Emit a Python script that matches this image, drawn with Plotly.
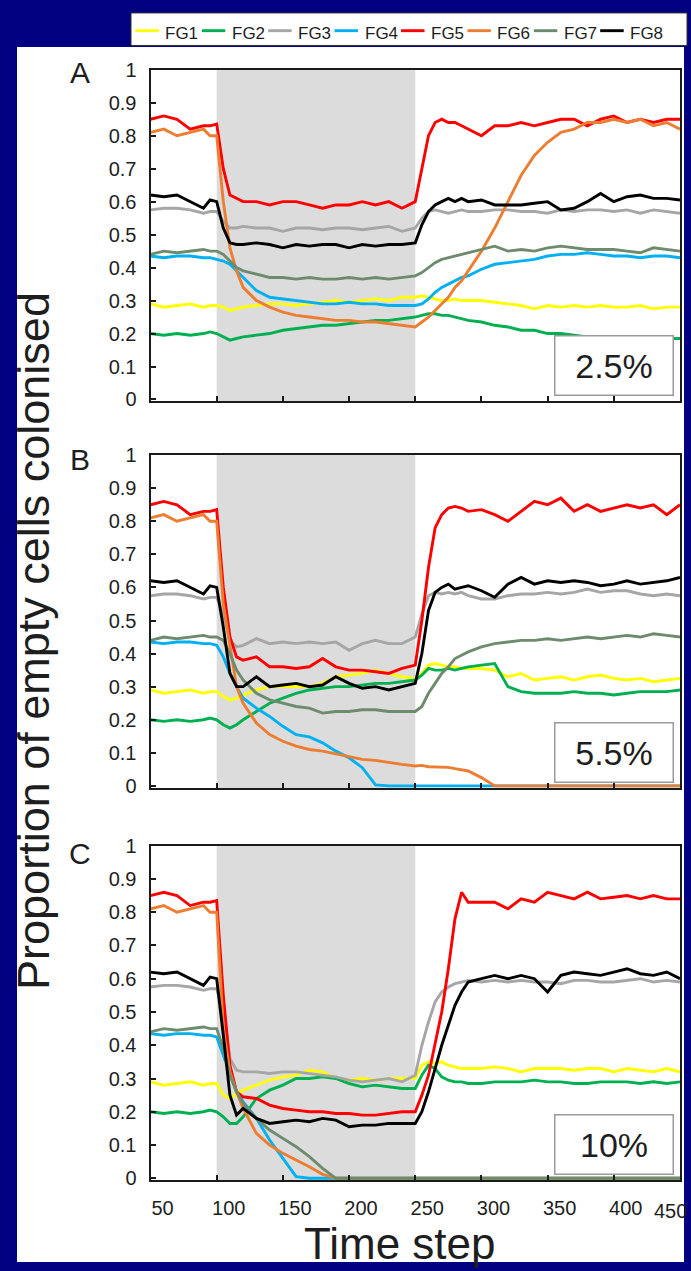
import plotly.graph_objects as go

# ---------------- data ----------------
time_steps = [50, 60, 70, 80, 90, 95, 100, 105, 110, 115,
              120, 130, 140, 150, 160, 170, 180, 190, 200, 210, 220, 230, 240,
              250, 255, 260, 265, 270, 275, 280, 285, 290,
              300, 310, 320, 330, 340, 350, 360, 370, 380, 390, 400, 410, 420, 430, 440, 450]

groups = ["FG1", "FG2", "FG3", "FG4", "FG5", "FG6", "FG7", "FG8"]
colors = ["#ffff00", "#00b050", "#a6a6a6", "#00b0f0", "#ff0000", "#ed7d31", "#6e8b6e", "#000000"]

# Panel A (2.5%)
fg1_a = [0.29,0.28,0.285,0.29,0.28,0.285,0.285, 0.28,0.27,0.275,
         0.28,0.285,0.29,0.29,0.285,0.29,0.295,0.30,0.295,0.30,0.305,0.30,0.31,
         0.31,0.315,0.31,0.305,0.30,0.30,0.305,0.30,0.30,
         0.30,0.295,0.29,0.285,0.275,0.285,0.28,0.285,0.28,0.285,0.28,0.28,0.285,0.275,0.28,0.28]
fg2_a = [0.20,0.195,0.20,0.195,0.20,0.205,0.20, 0.19,0.18,0.185,
         0.19,0.195,0.20,0.21,0.215,0.22,0.225,0.225,0.23,0.235,0.24,0.24,0.245,
         0.25,0.255,0.26,0.26,0.255,0.255,0.25,0.245,0.24,
         0.235,0.225,0.22,0.21,0.21,0.20,0.20,0.195,0.19,0.19,0.19,0.185,0.19,0.19,0.185,0.185]
fg3_a = [0.575,0.58,0.58,0.575,0.565,0.57,0.57, 0.54,0.52,0.52,
         0.525,0.52,0.52,0.51,0.52,0.52,0.515,0.52,0.52,0.515,0.52,0.525,0.51,
         0.52,0.55,0.57,0.575,0.57,0.565,0.57,0.575,0.57,
         0.57,0.575,0.575,0.57,0.57,0.565,0.575,0.57,0.575,0.575,0.57,0.575,0.565,0.575,0.57,0.565]
fg4_a = [0.435,0.43,0.435,0.435,0.43,0.43,0.425, 0.42,0.41,0.39,
         0.37,0.33,0.31,0.305,0.30,0.295,0.29,0.29,0.295,0.29,0.29,0.285,0.285,
         0.285,0.29,0.305,0.325,0.34,0.35,0.36,0.37,0.375,
         0.395,0.41,0.415,0.42,0.425,0.435,0.44,0.44,0.445,0.44,0.435,0.435,0.43,0.435,0.435,0.43]
fg5_a = [0.85,0.86,0.85,0.82,0.83,0.83,0.835, 0.70,0.62,0.61,
         0.60,0.60,0.59,0.60,0.60,0.59,0.58,0.59,0.59,0.60,0.59,0.60,0.58,
         0.60,0.70,0.80,0.84,0.85,0.84,0.84,0.83,0.82,
         0.80,0.83,0.83,0.84,0.83,0.84,0.85,0.85,0.83,0.85,0.86,0.84,0.85,0.84,0.85,0.85]
fg6_a = [0.81,0.82,0.80,0.81,0.82,0.80,0.80, 0.60,0.46,0.39,
         0.34,0.30,0.28,0.265,0.255,0.25,0.245,0.24,0.24,0.235,0.235,0.23,0.225,
         0.22,0.235,0.25,0.27,0.29,0.31,0.34,0.36,0.39,
         0.45,0.52,0.60,0.68,0.74,0.78,0.81,0.82,0.84,0.84,0.85,0.84,0.85,0.83,0.84,0.82]
fg7_a = [0.44,0.45,0.445,0.45,0.455,0.45,0.45, 0.44,0.42,0.40,
         0.39,0.38,0.37,0.37,0.365,0.37,0.365,0.365,0.37,0.365,0.37,0.365,0.37,
         0.375,0.385,0.40,0.415,0.425,0.43,0.435,0.44,0.445,
         0.455,0.465,0.45,0.455,0.45,0.46,0.465,0.46,0.455,0.455,0.455,0.45,0.445,0.46,0.455,0.45]
fg8_a = [0.62,0.615,0.62,0.60,0.58,0.605,0.60, 0.52,0.475,0.47,
         0.47,0.475,0.47,0.46,0.47,0.465,0.47,0.47,0.46,0.47,0.465,0.47,0.47,
         0.475,0.53,0.57,0.59,0.60,0.61,0.60,0.61,0.60,
         0.605,0.59,0.59,0.59,0.595,0.60,0.575,0.58,0.60,0.625,0.60,0.615,0.62,0.61,0.61,0.605]

# Panel B (5.5%)
fg1_b = [0.29,0.28,0.285,0.29,0.28,0.285,0.285, 0.27,0.26,0.265,
         0.275,0.29,0.30,0.30,0.30,0.30,0.31,0.33,0.335,0.34,0.35,0.34,0.33,
         0.325,0.34,0.365,0.37,0.365,0.36,0.36,0.355,0.355,
         0.355,0.35,0.33,0.34,0.32,0.325,0.33,0.32,0.33,0.335,0.325,0.32,0.325,0.315,0.32,0.325]
fg2_b = [0.20,0.195,0.20,0.195,0.20,0.205,0.20, 0.185,0.175,0.185,
         0.20,0.225,0.25,0.265,0.28,0.29,0.295,0.30,0.30,0.305,0.31,0.31,0.315,
         0.32,0.335,0.355,0.35,0.35,0.355,0.35,0.355,0.36,
         0.365,0.37,0.30,0.285,0.28,0.28,0.28,0.285,0.28,0.28,0.275,0.28,0.285,0.285,0.285,0.29]
fg3_b = [0.575,0.58,0.58,0.575,0.565,0.57,0.57, 0.52,0.44,0.42,
         0.425,0.445,0.43,0.435,0.43,0.435,0.43,0.435,0.41,0.43,0.44,0.43,0.43,
         0.45,0.52,0.575,0.585,0.58,0.585,0.58,0.585,0.575,
         0.565,0.565,0.575,0.58,0.58,0.585,0.58,0.585,0.595,0.585,0.59,0.59,0.58,0.575,0.58,0.575]
fg4_b = [0.435,0.43,0.435,0.435,0.43,0.43,0.425, 0.39,0.34,0.30,
         0.265,0.235,0.21,0.18,0.155,0.148,0.13,0.105,0.085,0.055,0.003,0.0,0.0,
         0.0,0.0,0.0,0.0,0.0,0.0,0.0,0.0,0.0,
         0.0,0.0,0.0,0.0,0.0,0.0,0.0,0.0,0.0,0.0,0.0,0.0,0.0,0.0,0.0,0.0]
fg5_b = [0.85,0.86,0.85,0.82,0.83,0.83,0.835, 0.60,0.45,0.39,
         0.38,0.39,0.36,0.36,0.355,0.36,0.385,0.36,0.35,0.35,0.345,0.34,0.355,
         0.365,0.50,0.66,0.78,0.82,0.84,0.845,0.84,0.83,
         0.835,0.82,0.80,0.83,0.86,0.85,0.87,0.83,0.85,0.83,0.84,0.85,0.84,0.85,0.82,0.85]
fg6_b = [0.81,0.82,0.80,0.81,0.82,0.80,0.80, 0.55,0.42,0.30,
         0.25,0.19,0.155,0.135,0.12,0.11,0.105,0.097,0.09,0.08,0.077,0.07,0.065,
         0.06,0.062,0.058,0.057,0.057,0.056,0.052,0.048,0.045,
         0.025,0.0,0.0,0.0,0.0,0.0,0.0,0.0,0.0,0.0,0.0,0.0,0.0,0.0,0.0,0.0]
fg7_b = [0.44,0.45,0.445,0.45,0.455,0.45,0.45, 0.44,0.40,0.35,
         0.32,0.28,0.26,0.25,0.24,0.235,0.22,0.225,0.225,0.23,0.23,0.225,0.225,
         0.225,0.24,0.28,0.31,0.34,0.36,0.385,0.395,0.405,
         0.42,0.43,0.435,0.44,0.44,0.445,0.44,0.445,0.45,0.445,0.45,0.455,0.45,0.46,0.455,0.45]
fg8_b = [0.62,0.615,0.62,0.60,0.58,0.605,0.60, 0.48,0.34,0.30,
         0.30,0.33,0.30,0.305,0.31,0.30,0.305,0.33,0.31,0.295,0.30,0.29,0.30,
         0.31,0.40,0.53,0.585,0.60,0.61,0.595,0.60,0.605,
         0.59,0.57,0.61,0.63,0.61,0.62,0.615,0.62,0.615,0.605,0.61,0.62,0.61,0.615,0.62,0.63]

# Panel C (10%)
fg1_c = [0.29,0.28,0.285,0.29,0.28,0.285,0.285, 0.25,0.24,0.255,
         0.265,0.28,0.295,0.305,0.31,0.325,0.32,0.30,0.295,0.30,0.295,0.30,0.30,
         0.30,0.34,0.35,0.345,0.35,0.34,0.335,0.33,0.33,
         0.33,0.335,0.33,0.32,0.33,0.33,0.33,0.325,0.33,0.33,0.32,0.33,0.325,0.32,0.33,0.32]
fg2_c = [0.20,0.195,0.20,0.195,0.20,0.205,0.20, 0.185,0.165,0.165,
         0.185,0.24,0.265,0.28,0.30,0.30,0.305,0.30,0.285,0.275,0.28,0.275,0.27,
         0.27,0.31,0.34,0.33,0.305,0.295,0.29,0.29,0.285,
         0.285,0.29,0.29,0.29,0.295,0.29,0.29,0.285,0.285,0.29,0.29,0.29,0.285,0.29,0.285,0.29]
fg3_c = [0.575,0.58,0.58,0.575,0.565,0.57,0.57, 0.50,0.36,0.325,
         0.32,0.32,0.315,0.32,0.32,0.315,0.31,0.305,0.295,0.29,0.295,0.30,0.29,
         0.31,0.40,0.47,0.53,0.56,0.575,0.585,0.59,0.595,
         0.59,0.595,0.59,0.595,0.59,0.59,0.585,0.595,0.595,0.59,0.59,0.595,0.60,0.59,0.595,0.59]
fg4_c = [0.435,0.43,0.435,0.435,0.43,0.43,0.425, 0.37,0.31,0.26,
         0.23,0.18,0.115,0.06,0.005,0.0,0.0,0.0,0.0,0.0,0.0,0.0,0.0,
         0.0,0.0,0.0,0.0,0.0,0.0,0.0,0.0,0.0,
         0.0,0.0,0.0,0.0,0.0,0.0,0.0,0.0,0.0,0.0,0.0,0.0,0.0,0.0,0.0,0.0]
fg5_c = [0.85,0.86,0.85,0.82,0.83,0.83,0.835, 0.55,0.34,0.26,
         0.245,0.24,0.22,0.21,0.205,0.20,0.20,0.195,0.195,0.19,0.19,0.195,0.20,
         0.20,0.25,0.31,0.40,0.50,0.63,0.78,0.86,0.83,
         0.83,0.83,0.81,0.84,0.83,0.86,0.85,0.84,0.86,0.84,0.845,0.85,0.84,0.85,0.84,0.84]
fg6_c = [0.81,0.82,0.80,0.81,0.82,0.80,0.80, 0.45,0.32,0.26,
         0.21,0.135,0.10,0.075,0.055,0.035,0.012,0.0,0.0,0.0,0.0,0.0,0.0,
         0.0,0.0,0.0,0.0,0.0,0.0,0.0,0.0,0.0,
         0.0,0.0,0.0,0.0,0.0,0.0,0.0,0.0,0.0,0.0,0.0,0.0,0.0,0.0,0.0,0.0]
fg7_c = [0.44,0.45,0.445,0.45,0.455,0.45,0.45, 0.39,0.31,0.26,
         0.225,0.18,0.145,0.12,0.095,0.065,0.03,0.0,0.0,0.0,0.0,0.0,0.0,
         0.0,0.0,0.0,0.0,0.0,0.0,0.0,0.0,0.0,
         0.0,0.0,0.0,0.0,0.0,0.0,0.0,0.0,0.0,0.0,0.0,0.0,0.0,0.0,0.0,0.0]
fg8_c = [0.62,0.615,0.62,0.60,0.58,0.605,0.60, 0.43,0.25,0.19,
         0.21,0.18,0.165,0.17,0.175,0.17,0.18,0.175,0.155,0.16,0.16,0.165,0.165,
         0.165,0.20,0.26,0.33,0.40,0.46,0.52,0.56,0.59,
         0.60,0.61,0.60,0.61,0.60,0.56,0.61,0.62,0.615,0.61,0.62,0.63,0.615,0.61,0.62,0.60]

panel_letters = ["A", "B", "C"]
panel_rates = ["2.5%", "5.5%", "10%"]
x_ticks = [50, 100, 150, 200, 250, 300, 350, 400, 450]
x_ticktext = ["50", "100", "150", "200", "250", "300", "350", "400", "450"]
y_ticks = [0, 0.1, 0.2, 0.3, 0.4, 0.5, 0.6, 0.7, 0.8, 0.9, 1]
y_ticktext = ["0", "0.1", "0.2", "0.3", "0.4", "0.5", "0.6", "0.7", "0.8", "0.9", "1"]
disturbance_start = 100
disturbance_end = 250

panels = [
    [fg1_a, fg2_a, fg3_a, fg4_a, fg5_a, fg6_a, fg7_a, fg8_a],
    [fg1_b, fg2_b, fg3_b, fg4_b, fg5_b, fg6_b, fg7_b, fg8_b],
    [fg1_c, fg2_c, fg3_c, fg4_c, fg5_c, fg6_c, fg7_c, fg8_c],
]

# ---------------- layout helpers ----------------
W, H = 691, 1271
FONT = "Liberation Sans, Arial, Helvetica, sans-serif"
TXT = "#1e1e1e"
NAVY = "#000080"
LW = 2.9


def px(x):
    return x / W


def py(y):
    return 1 - y / H


x_dom = [px(150.5), px(680)]
y_doms = [[py(396.7), py(59.7)], [py(789.3), py(451.2)], [py(1188), py(848)]]
letter_y = [62, 456, 856]
box_y = [360, 753.5, 1152]

fig = go.Figure()

for p, series in enumerate(panels):
    xa = "x" if p == 0 else f"x{p+1}"
    ya = "y" if p == 0 else f"y{p+1}"
    for g, vals in enumerate(series):
        fig.add_trace(go.Scatter(
            x=time_steps, y=vals, mode="lines", name=groups[g],
            line=dict(color=colors[g], width=LW),
            xaxis=xa, yaxis=ya, showlegend=False, hoverinfo="skip",
        ))

shapes = [
    # white figure panel on the navy slide
    dict(type="rect", xref="paper", yref="paper",
         x0=px(17), x1=px(684), y0=0, y1=py(36.5),
         fillcolor="#ffffff", line=dict(width=0), layer="below"),
    # legend box
    dict(type="rect", xref="paper", yref="paper",
         x0=px(131), x1=px(687), y0=py(35), y1=py(2),
         fillcolor="#ffffff", line=dict(color="#333333", width=1), layer="above"),
]
annotations = []

# legend keys
leg_x0, leg_step, leg_y = 135.4, 66.4, 20
for g in range(len(groups)):
    x0 = leg_x0 + g * leg_step
    shapes.append(dict(type="line", xref="paper", yref="paper",
                       x0=px(x0), x1=px(x0 + 23.5), y0=py(leg_y), y1=py(leg_y),
                       line=dict(color=colors[g], width=LW), layer="above"))
    annotations.append(dict(text=groups[g], xref="paper", yref="paper",
                            x=px(x0 + 28), y=py(leg_y + 2.5), xanchor="left", yanchor="middle",
                            showarrow=False, font=dict(size=17, family=FONT, color=TXT)))

# the last x tick label sits against the right edge; it is placed as text just inside
annotations.append(dict(text=x_ticktext[-1], xref="paper", yref="paper",
                        x=px(670), y=py(1219), xanchor="center", yanchor="middle",
                        showarrow=False, font=dict(size=20, family=FONT, color=TXT)))

layout = dict(
    width=W, height=H,
    margin=dict(l=0, r=0, t=0, b=0),
    paper_bgcolor=NAVY,
    plot_bgcolor="#ffffff",
    font=dict(family=FONT, color=TXT),
    showlegend=False,
    shapes=shapes,
    annotations=annotations,
)

for p in range(3):
    sx = "" if p == 0 else str(p + 1)
    layout[f"xaxis{sx}"] = dict(
        domain=x_dom, anchor=f"y{sx}", range=[50, 450],
        tickvals=x_ticks, ticktext=x_ticktext[:-1] + [""],
        ticks="inside", ticklen=5, tickwidth=1.5, tickcolor="#1a1a1a",
        showline=True, linecolor="#1a1a1a", linewidth=2, mirror=True,
        showgrid=False, zeroline=False,
        showticklabels=(p == 2), ticklabelshift=12, ticklabelstandoff=9,
        tickfont=dict(size=20, family=FONT, color=TXT),
    )
    layout[f"yaxis{sx}"] = dict(
        domain=y_doms[p], anchor=f"x{sx}", range=[-0.006, 1],
        tickvals=y_ticks, ticktext=y_ticktext,
        ticks="inside", ticklen=5, tickwidth=1.5, tickcolor="#1a1a1a",
        showline=True, linecolor="#1a1a1a", linewidth=2, mirror=True,
        showgrid=False, zeroline=False, ticklabelstandoff=8,
        tickfont=dict(size=20, family=FONT, color=TXT),
    )
    layout["shapes"].append(dict(
        type="rect", xref=f"x{sx}", yref=f"y{sx} domain",
        x0=disturbance_start, x1=disturbance_end, y0=0, y1=1,
        fillcolor="#dcdcdc", line=dict(width=0), layer="below"))
    layout["annotations"].append(dict(
        text=panel_letters[p], xref="paper", yref="paper",
        x=px(80), y=py(letter_y[p]), xanchor="center", yanchor="middle",
        showarrow=False, font=dict(size=30, family=FONT, color=TXT)))
    layout["annotations"].append(dict(
        text=panel_rates[p], xref="paper", yref="paper",
        x=px(613.5), y=py(box_y[p]), xanchor="center", yanchor="middle",
        showarrow=False, width=115, height=56, borderpad=1,
        bordercolor="#9a9a9a", borderwidth=1.5, bgcolor="#ffffff",
        font=dict(size=34, family=FONT, color=TXT)))

layout["annotations"].append(dict(
    text="Proportion of empty cells colonised", xref="paper", yref="paper",
    x=px(34), y=py(640), xanchor="center", yanchor="middle",
    showarrow=False, textangle=-90,
    font=dict(size=45, family=FONT, color=TXT)))
layout["annotations"].append(dict(
    text="Time step", xref="paper", yref="paper",
    x=px(400), y=py(1252), xanchor="center", yanchor="middle",
    showarrow=False, font=dict(size=44, family=FONT, color=TXT)))

fig.update_layout(**layout)
fig.write_html("out.html")
